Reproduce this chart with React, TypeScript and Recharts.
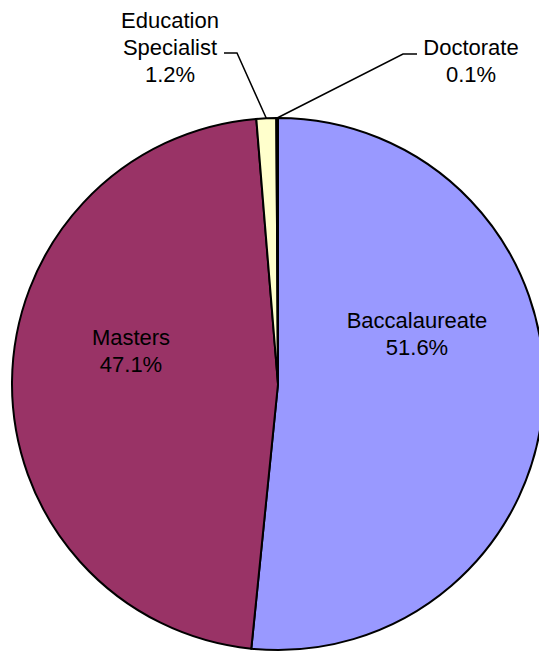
import { PieChart, Pie, Cell } from 'recharts';

const categories = ['Baccalaureate', 'Masters', 'Education Specialist', 'Doctorate'];
const shares = [51.6, 47.1, 1.2, 0.1];
const colors = ['#9999FF', '#993366', '#FFFFCC', '#CCFFFF'];

const data = categories.map((name, i) => ({ name, value: shares[i] }));

const FONT = '"Liberation Sans", Arial, sans-serif';
const FS = 22;
const LH = 27;

// label placement relative to pie centre (text x, first baseline y, leader elbow)
const labelSpots: Record<string, { dx: number; dy: number; lines: string[]; elbow?: [number, number]; tail?: number }> = {
  Baccalaureate: { dx: 139, dy: -56, lines: ['Baccalaureate'] },
  Masters: { dx: -147, dy: -39, lines: ['Masters'] },
  'Education Specialist': { dx: -108, dy: -356, lines: ['Education', 'Specialist'], elbow: [-41, -331], tail: -54 },
  Doctorate: { dx: 193, dy: -329, lines: ['Doctorate'], elbow: [125, -330], tail: 139 },
};

const RAD = Math.PI / 180;

function renderLabel(props: any) {
  const { cx, cy, midAngle, outerRadius, name, value } = props;
  const spot = labelSpots[name];
  if (!spot) return null;
  const lines = [...spot.lines, `${value.toFixed(1)}%`];
  const x = cx + spot.dx;
  const y0 = cy + spot.dy;
  let leader = null;
  if (spot.elbow) {
    const ex = cx + outerRadius * Math.cos(-midAngle * RAD);
    const ey = cy + outerRadius * Math.sin(-midAngle * RAD);
    const bx = cx + spot.elbow[0];
    const by = cy + spot.elbow[1];
    const tx = cx + (spot.tail ?? spot.elbow[0]);
    leader = (
      <polyline
        points={`${ex},${ey} ${bx},${by} ${tx},${by}`}
        fill="none"
        stroke="#000"
        strokeWidth={1.5}
      />
    );
  }
  return (
    <g key={`lbl-${name}`}>
      {leader}
      <text x={x} y={y0} textAnchor="middle" fontFamily={FONT} fontSize={FS} fill="#000">
        {lines.map((t, i) => (
          <tspan key={i} x={x} y={y0 + i * LH}>
            {t}
          </tspan>
        ))}
      </text>
    </g>
  );
}

export default function App() {
  return (
    <div style={{ position: 'absolute', left: 0, top: 0, width: 539, height: 652, background: '#fff' }}>
      <PieChart width={539} height={652} margin={{ top: 0, right: 0, bottom: 0, left: 0 }}>
        <Pie
          data={data}
          dataKey="value"
          nameKey="name"
          cx={278}
          cy={384}
          outerRadius={266}
          startAngle={90}
          endAngle={-270}
          stroke="#000"
          strokeWidth={2}
          label={renderLabel}
          labelLine={false}
          isAnimationActive={false}
        >
          {data.map((d, i) => (
            <Cell key={d.name} fill={colors[i]} />
          ))}
        </Pie>
      </PieChart>
    </div>
  );
}
